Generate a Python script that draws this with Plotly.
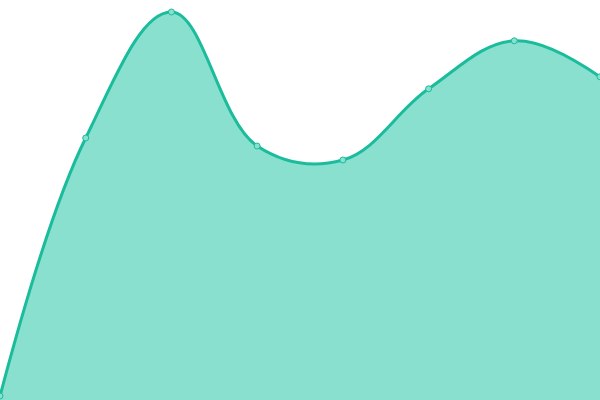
import plotly.graph_objs as go

x_values = [0, 1, 2, 3, 4, 5, 6, 7]
y_values = [1, 65.5, 97, 63.5, 60, 77.8, 89.8, 80.8]

line_color = "#1abc9c"
fill_color = "#89e0cf"


def draw_graph(x_list: list, y_list: list):
    fig = go.Figure()
    fig.add_trace(go.Scatter(x=x_list, y=y_list, mode="lines+markers",
                             fill="tozeroy", fillcolor=fill_color,
                             line=dict(color=line_color, width=3, shape="spline", smoothing=1.1),
                             marker=dict(size=6, color=fill_color,
                                         line=dict(color=line_color, width=1))))
    fig.update_layout(width=600, height=400, margin=dict(l=0, r=0, t=0, b=0),
                      paper_bgcolor="white", plot_bgcolor="white", showlegend=False,
                      xaxis=dict(range=[0, 7], visible=False, fixedrange=True),
                      yaxis=dict(range=[0, 100], visible=False, fixedrange=True))
    return fig


def main():
    fig = draw_graph(x_values, y_values)
    # drop the browser's default 8px body margin so the chart sits flush in the window
    fig.write_html("out.html", config={"displayModeBar": False},
                   post_script="document.body.style.margin='0';")


if __name__ == "__main__":
    main()
